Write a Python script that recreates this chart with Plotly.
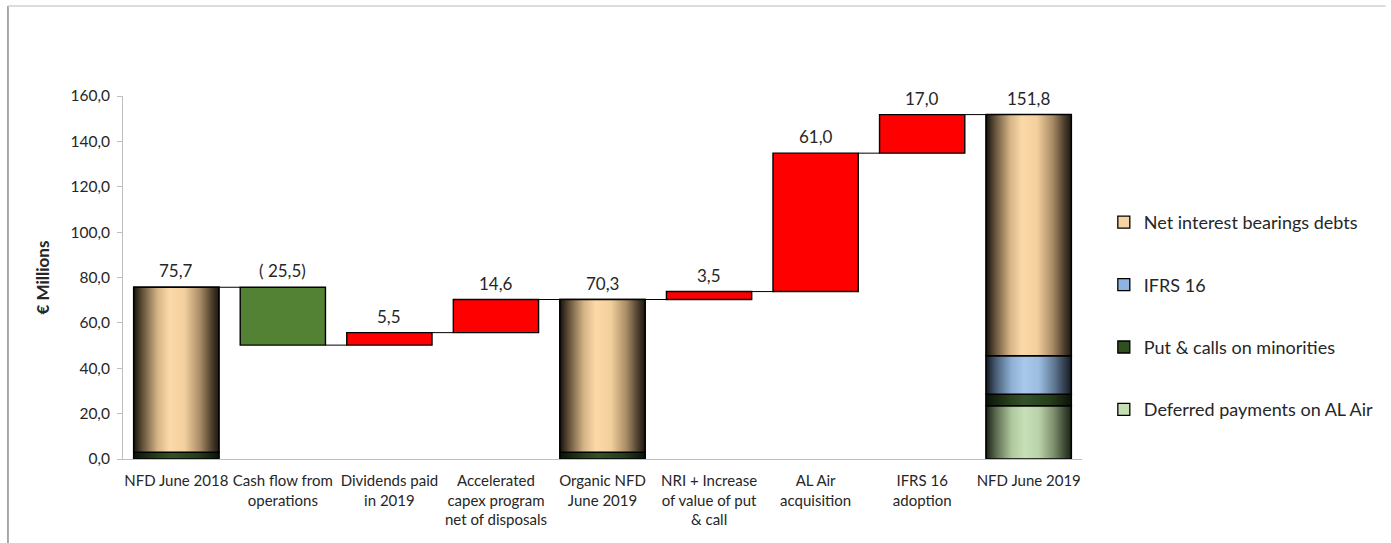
import plotly.graph_objects as go

# ---------------- data ----------------
categories = [
    "NFD June 2018",
    "Cash flow from<br>operations",
    "Dividends paid<br>in 2019",
    "Accelerated<br>capex program<br>net of disposals",
    "Organic NFD<br>June 2019",
    "NRI + Increase<br>of value of put<br>& call",
    "AL Air<br>acquisition",
    "IFRS 16<br>adoption",
    "NFD June 2019",
]
# composition of the total bars (bottom -> top)
stack_series = ["Deferred payments on AL Air", "Put & calls on minorities",
                "IFRS 16", "Net interest bearings debts"]
nfd_june_2018 = [0.0, 3.0, 0.0, 72.7]
organic_nfd_june_2019 = [0.0, 3.0, 0.0, 67.3]
nfd_june_2019 = [23.5, 5.0, 17.0, 106.3]
# movements between totals (None = total bar)
movements = [None, -25.5, 5.5, 14.6, None, 3.5, 61.0, 17.0, None]
y_ticks = [0, 20, 40, 60, 80, 100, 120, 140, 160]

# ---------------- styles ----------------
W = 0.8
solid = {
    "Deferred payments on AL Air": "#c4dfb2",
    "Put & calls on minorities": "#2f4f1f",
    "IFRS 16": "#8db4e2",
    "Net interest bearings debts": "#f6d3a0",
}
gradients = {
    "Net interest bearings debts": [[0, "#15120c"], [0.12, "#6e5a40"], [0.28, "#d4b385"],
                                    [0.42, "#fcd9a8"], [0.6, "#f2cf9c"], [0.78, "#a88c66"],
                                    [0.92, "#4a3d2b"], [1, "#1d1810"]],
    "IFRS 16": [[0, "#121820"], [0.12, "#4a6078"], [0.3, "#8fb0d4"], [0.45, "#a8c8ec"],
                [0.62, "#9cbde0"], [0.8, "#5f7893"], [0.93, "#2d3a48"], [1, "#141a22"]],
    "Put & calls on minorities": [[0, "#0b1208"], [0.3, "#29421d"], [0.45, "#34522a"],
                                  [0.75, "#263d1b"], [1, "#0b1208"]],
    "Deferred payments on AL Air": [[0, "#1c2216"], [0.12, "#5e6e52"], [0.3, "#aec79c"],
                                    [0.45, "#c8e0b8"], [0.62, "#bad2a8"], [0.8, "#7a8c6c"],
                                    [0.93, "#3a4530"], [1, "#1c2216"]],
}
GREEN = "#548235"
RED = "#ff0000"
FONT = "Lato"

fig = go.Figure()

totals = {0: nfd_june_2018, 4: organic_nfd_june_2019, 8: nfd_june_2019}

# stacked total bars (solid, carry the legend)
legend_order = list(reversed(stack_series))
for name in legend_order:
    k = stack_series.index(name)
    xs, ys, bases = [], [], []
    for i, comp in totals.items():
        xs.append(i)
        ys.append(comp[k])
        bases.append(sum(comp[:k]))
    fig.add_trace(go.Bar(
        x=xs, y=ys, base=bases, width=W, name=name, legendgroup=name,
        marker=dict(color=solid[name], line=dict(color="black", width=1.3)),
        hoverinfo="skip",
    ))

# gradient overlays for the total bars
for i, comp in totals.items():
    b = 0.0
    for k, name in enumerate(stack_series):
        h = comp[k]
        if h > 0:
            fig.add_trace(go.Scatter(
                x=[i - W / 2, i + W / 2, i + W / 2, i - W / 2, i - W / 2],
                y=[b, b, b + h, b + h, b],
                mode="lines", fill="toself",
                fillgradient=dict(type="horizontal", colorscale=gradients[name]),
                line=dict(color="black", width=1.5),
                showlegend=False, hoverinfo="skip",
            ))
        b += h

# movement bars
level = sum(nfd_june_2018)
levels_after = []
lab_x, lab_y, lab_t = [], [], []
for i in range(len(categories)):
    if movements[i] is None:
        level = sum(totals[i])
        lab_x.append(i); lab_y.append(level)
        lab_t.append(f"{level:.1f}".replace(".", ","))
    else:
        v = movements[i]
        start, end = level, level + v
        fig.add_trace(go.Bar(
            x=[i], y=[abs(v)], base=[min(start, end)], width=W, showlegend=False,
            marker=dict(color=GREEN if v < 0 else RED, line=dict(color="black", width=1.4)),
            hoverinfo="skip",
        ))
        lab_x.append(i); lab_y.append(max(start, end))
        txt = f"{abs(v):.1f}".replace(".", ",")
        lab_t.append(f"( {txt})" if v < 0 else txt)
        level = end
    levels_after.append(level)

# connector lines
cx, cy = [], []
for i in range(len(categories) - 1):
    cx += [i + W / 2, i + 1 - W / 2, None]
    cy += [levels_after[i], levels_after[i], None]
fig.add_trace(go.Scatter(x=cx, y=cy, mode="lines", line=dict(color="black", width=1),
                         showlegend=False, hoverinfo="skip"))

for x, y, t in zip(lab_x, lab_y, lab_t):
    fig.add_annotation(x=x, y=y, text=t, showarrow=False, yanchor="bottom", yshift=4,
                       font=dict(family=FONT, size=17, color="#262626"))

# ---------------- layout ----------------
FW, FH = 1391, 543
ML, MR, MT, MB = 123, 301, 96, 84
PW, PH = FW - ML - MR, FH - MT - MB


def px_x(p):
    return (p - ML) / PW


def px_y(p):
    return (FH - MB - p) / PH


# outer frame (slide border)
fig.add_shape(type="line", xref="paper", yref="paper", x0=px_x(7), x1=px_x(7),
              y0=px_y(6), y1=px_y(FH + 5), line=dict(color="#8c8c8c", width=1.5))
fig.add_shape(type="line", xref="paper", yref="paper", x0=px_x(7), x1=px_x(FW + 5),
              y0=px_y(6), y1=px_y(6), line=dict(color="#d0d0d0", width=1.5))

fig.update_layout(
    width=FW, height=FH,
    margin=dict(l=ML, r=MR, t=MT, b=MB),
    paper_bgcolor="white", plot_bgcolor="white",
    barmode="overlay",
    separators=",.",
    font=dict(family=FONT, size=15, color="#262626"),
    showlegend=True,
    legend=dict(x=px_x(1112), y=px_y(204), xanchor="left", yanchor="top",
                traceorder="grouped", tracegroupgap=36,
                font=dict(family=FONT, size=18, color="#262626"),
                itemwidth=30, bgcolor="rgba(0,0,0,0)"),
    xaxis=dict(range=[-0.5, len(categories) - 0.5], tickvals=list(range(len(categories))),
               ticktext=categories, showgrid=False, zeroline=False,
               showline=True, linecolor="#bfbfbf", linewidth=1, ticks="",
               ticklabelstandoff=8,
               tickfont=dict(family=FONT, size=15, color="#262626")),
    yaxis=dict(range=[0, 160], tickvals=y_ticks, tickformat=".1f", showgrid=False,
               zeroline=False, showline=True, linecolor="#bfbfbf", linewidth=1,
               ticks="outside", ticklen=5, tickcolor="#bfbfbf",
               ticklabelstandoff=4,
               tickfont=dict(family=FONT, size=15.5, color="#262626"),
               title=dict(text="<b>€ Millions</b>", standoff=16,
                          font=dict(family=FONT, size=17, color="#262626"))),
)

fig.write_html("out.html")
